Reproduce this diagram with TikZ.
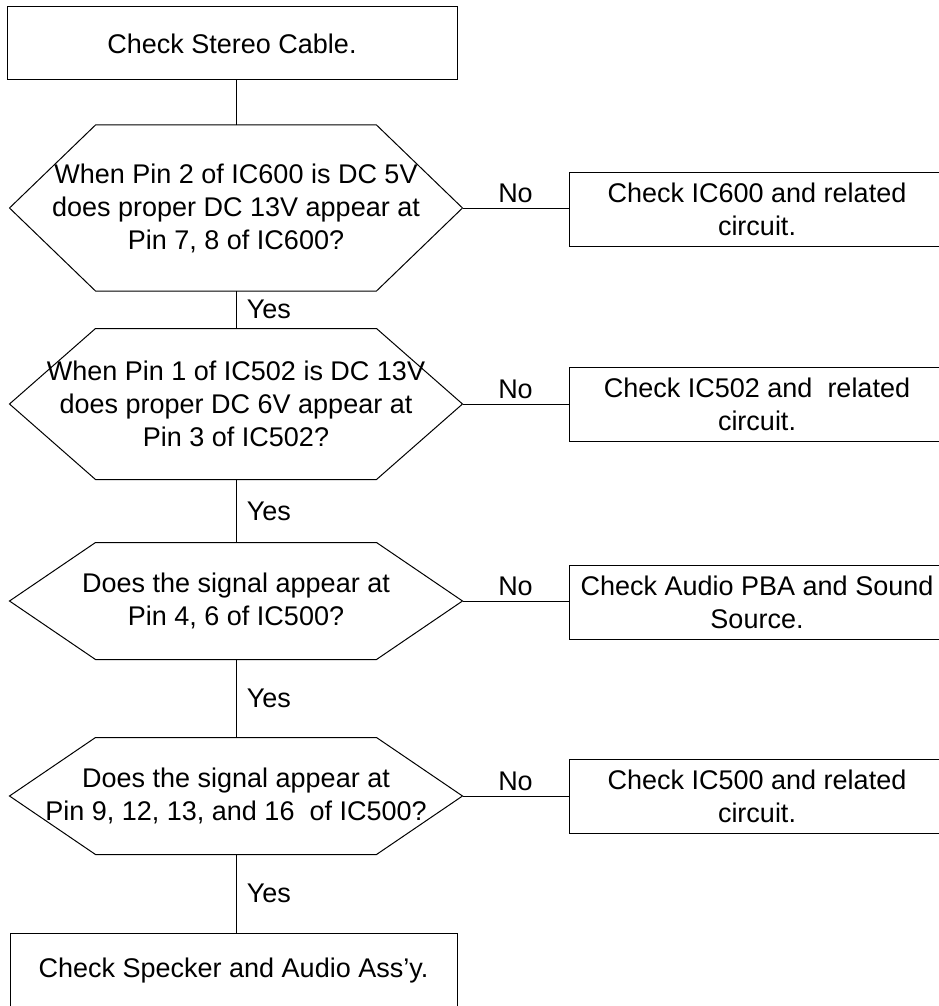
\documentclass[tikz,border=0pt]{standalone}
\usepackage{fontspec}
\setmainfont{Liberation Sans}
\usepackage{tikz}

\tikzset{
  box/.style={draw, align=center, inner sep=0pt},
  hexa/.style={align=center, inner sep=0pt, minimum width=452pt},
  side/.style={box, minimum width=376pt, minimum height=74pt},
}

\begin{document}
\begin{tikzpicture}[x=1pt, y=-1pt, line width=1pt, font=\fontsize{27}{33}\selectfont]
      \useasboundingbox (0,0) rectangle (938,1006);
      % Boxes:
      \node[box, minimum width=450pt, minimum height=73pt] (cable) at (232,43.5) {Check Stereo Cable.};
      \node[box, minimum width=447pt, minimum height=75pt] (speaker) at (233.5,970.5) {Check Specker and Audio Ass’y.};
      % Questions:
      \node[hexa, minimum height=165pt] (q1) at (236,208) {When Pin 2 of IC600 is DC 5V\\does proper DC 13V appear at\\Pin 7, 8 of IC600?};
      \node[hexa, minimum height=150pt] (q2) at (236,404) {When Pin 1 of IC502 is DC 13V\\does proper DC 6V appear at\\Pin 3 of IC502?};
      \node[hexa, minimum height=116pt] (q3) at (236,601) {Does the signal appear at\\Pin 4, 6 of IC500?};
      \node[hexa, minimum height=116pt] (q4) at (236,796) {Does the signal appear at\\Pin 9, 12, 13, and 16~ of IC500?};
      \foreach \q in {q1,q2,q3,q4}
        \draw (\q.west) -- ([xshift=86pt]\q.north west) -- ([xshift=-86pt]\q.north east)
          -- (\q.east) -- ([xshift=-86pt]\q.south east) -- ([xshift=86pt]\q.south west) -- cycle;
      % Checks on the right:
      \node[side] (r1) at (757,209) {Check IC600 and related\\circuit.};
      \node[side] (r2) at (757,404.5) {Check IC502 and~ related\\circuit.};
      \node[side] (r3) at (757,602) {Check Audio PBA and Sound\\Source.};
      \node[side] (r4) at (757,796) {Check IC500 and related\\circuit.};
      % Lines:
      \draw (cable.south -| q1.north) -- (q1.north);
      \draw (q1.south) -- node[right=7pt] {Yes} (q2.north);
      \draw (q2.south) -- node[right=7pt] {Yes} (q3.north);
      \draw (q3.south) -- node[right=7pt] {Yes} (q4.north);
      \draw (q4.south) -- node[right=7pt] {Yes} (speaker.north -| q4.south);
      \foreach \n in {1,2,3,4}
        \draw (q\n.east) -- node[above=1pt] {No} (q\n.east -| r\n.west);
    \end{tikzpicture}
\end{document}
